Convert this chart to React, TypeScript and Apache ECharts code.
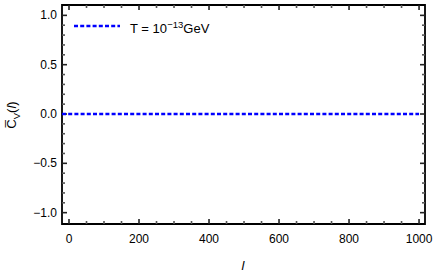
import React, { useEffect, useRef } from "react";
import * as echarts from "echarts";

const ellValues = [-20, 1000];
const cvValues = [0, 0];
const xMajorTicks = [0, 200, 400, 600, 800, 1000];
const xMinorTicks = [50, 100, 150, 250, 300, 350, 450, 500, 550, 650, 700, 750, 850, 900, 950];
const yMajorTicks = [-1, -0.5, 0, 0.5, 1];
const yMinorTicks = [-0.9, -0.8, -0.7, -0.6, -0.4, -0.3, -0.2, -0.1, 0.1, 0.2, 0.3, 0.4, 0.6, 0.7, 0.8, 0.9];
const seriesName = "T = 10^-13 GeV";

const X_MIN = -20;
const X_MAX = 1017;
const Y_MIN = -1.115;
const Y_MAX = 1.105;
const FONT = "Liberation Sans, Arial, sans-serif";

function fmtY(v: number) {
  const s = Math.abs(v).toFixed(1);
  return v < 0 ? "\u2212" + s : s;
}

export default function App() {
  const ref = useRef<HTMLDivElement>(null);
  useEffect(() => {
    if (!ref.current) return;
    const chart = echarts.init(ref.current, undefined, { renderer: "svg" });

    const xMajorData = xMajorTicks.map((v) => [v, 0]);
    const xMinorData = xMinorTicks.map((v) => [v, 0]);
    const yMajorData = yMajorTicks.map((v) => [0, v]);
    const yMinorData = yMinorTicks.map((v) => [0, v]);

    const xTickSeries = (data: number[][], len: number, stroke: string) => ({
      type: "custom",
      clip: false,
      data,
      renderItem: (params: any, api: any) => {
        const v = api.value(0);
        const b = api.coord([v, Y_MIN]);
        const t = api.coord([v, Y_MAX]);
        return {
          type: "group",
          children: [
            { type: "line", shape: { x1: b[0], y1: b[1], x2: b[0], y2: b[1] - len }, style: { stroke, lineWidth: 1.6 } },
            { type: "line", shape: { x1: t[0], y1: t[1], x2: t[0], y2: t[1] + len }, style: { stroke, lineWidth: 1.6 } },
          ],
        };
      },
    });
    const yTickSeries = (data: number[][], len: number, stroke: string) => ({
      type: "custom",
      clip: false,
      data,
      renderItem: (params: any, api: any) => {
        const v = api.value(1);
        const l = api.coord([X_MIN, v]);
        const r = api.coord([X_MAX, v]);
        return {
          type: "group",
          children: [
            { type: "line", shape: { x1: l[0], y1: l[1], x2: l[0] + len, y2: l[1] }, style: { stroke, lineWidth: 1.6 } },
            { type: "line", shape: { x1: r[0], y1: r[1], x2: r[0] - len, y2: r[1] }, style: { stroke, lineWidth: 1.6 } },
          ],
        };
      },
    });

    chart.setOption({
      animation: false,
      backgroundColor: "#fff",
      grid: {
        left: 62, top: 5, right: 11, bottom: 49,
        show: true, borderColor: "#000", borderWidth: 1.8,
      },
      xAxis: {
        type: "value",
        min: X_MIN,
        max: X_MAX,
        axisLine: { show: false },
        axisTick: { show: false },
        axisLabel: { show: true, customValues: xMajorTicks, margin: 9, fontSize: 12, color: "#000", fontFamily: FONT, formatter: (v: number) => String(v) },
        splitLine: { show: false },
      },
      yAxis: {
        type: "value",
        min: Y_MIN,
        max: Y_MAX,
        axisLine: { show: false },
        axisTick: { show: false },
        axisLabel: { show: true, customValues: yMajorTicks, margin: 5, fontSize: 12, color: "#000", fontFamily: FONT, formatter: (v: number) => fmtY(v) },
        splitLine: { show: false },
      },
      series: [
        xTickSeries(xMajorData, 5, "#222"),
        xTickSeries(xMinorData, 3, "#555"),
        yTickSeries(yMajorData, 5, "#222"),
        yTickSeries(yMinorData, 3, "#555"),
        {
          name: seriesName,
          type: "line",
          data: ellValues.map((l, i) => [l, cvValues[i]]),
          showSymbol: false,
          lineStyle: { color: "#0000ff", width: 2.6, type: [4, 2.2] },
        },
      ],
      graphic: [
        {
          type: "line",
          shape: { x1: 74, y1: 26, x2: 120, y2: 26 },
          style: { stroke: "#0000ff", lineWidth: 2.6, lineDash: [4, 2.2] },
        },
        {
          type: "text",
          x: 130,
          y: 27,
          style: {
            text: "{n|T = 10}{sup|\u221213}{n|GeV}",
            verticalAlign: "middle",
            fontFamily: FONT,
            rich: {
              n: { fontSize: 13, fontFamily: FONT, fill: "#000", verticalAlign: "bottom", lineHeight: 16 },
              sup: { fontSize: 9.5, fontFamily: FONT, fill: "#000", verticalAlign: "top", lineHeight: 16 },
            },
          },
        },
        {
          type: "text",
          x: 13,
          y: 115,
          rotation: Math.PI / 2,
          style: {
            text: "{c|C\u0305}{s|V}{p|(}{i|l}{p|)}",
            align: "center",
            verticalAlign: "middle",
            rich: {
              c: { fontSize: 13, fontFamily: FONT, fill: "#000", verticalAlign: "top", lineHeight: 17 },
              s: { fontSize: 9.5, fontFamily: FONT, fill: "#000", verticalAlign: "bottom", lineHeight: 17 },
              p: { fontSize: 13, fontFamily: FONT, fill: "#000", verticalAlign: "top", lineHeight: 17 },
              i: { fontSize: 13, fontFamily: FONT, fontStyle: "italic", fill: "#000", verticalAlign: "top", lineHeight: 17 },
            },
          },
        },
        {
          type: "text",
          x: 243,
          y: 265,
          style: {
            text: "l",
            align: "center",
            verticalAlign: "middle",
            fontSize: 13,
            fontStyle: "italic",
            fontFamily: FONT,
            fill: "#000",
          },
        },
      ],
    });
    return () => chart.dispose();
  }, []);
  return (
    <div
      ref={ref}
      style={{ position: "fixed", left: 0, top: 0, width: 436, height: 273, background: "#fff" }}
    />
  );
}
